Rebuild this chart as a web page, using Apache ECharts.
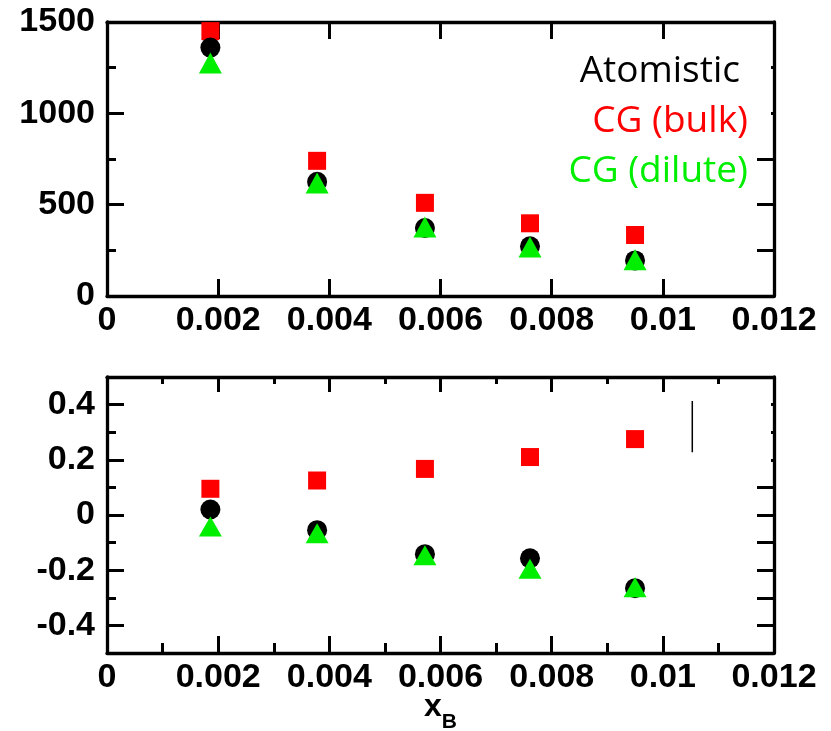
<!DOCTYPE html>
<html>
<head>
<meta charset="utf-8">
<script src="https://cdn.jsdelivr.net/npm/echarts@6/dist/echarts.min.js"></script>
<style>
html,body{margin:0;padding:0;background:#fff;}
#chart{width:831px;height:731px;}
</style>
</head>
<body>
<div id="chart"></div>
<script>
// ---- data ----
const xB = [0.00186, 0.00378, 0.00572, 0.00761, 0.0095];
const topAtomistic = [1360, 625, 372, 272, 195];
const topBulk      = [1450, 740, 510, 398, 334];
const topDilute    = [1275, 618, 378, 268, 198];
const botAtomistic = [0.020, -0.055, -0.142, -0.157, -0.265];
const botBulk      = [0.095, 0.125, 0.167, 0.210, 0.275];
const botDilute    = [-0.042, -0.066, -0.146, -0.195, -0.262];
const markLineX = [0.01053, 0.01053];
const markLineY = [0.413, 0.227];
const legendNames = ['Atomistic', 'CG (bulk)', 'CG (dilute)'];
const botYLabels = [-0.4, -0.2, 0, 0.2, 0.4];
const topYRange = [0, 1500];
const botYRange = [-0.5, 0.5];
const xRange = [0, 0.012];

const zip = (xs, ys) => xs.map((x, i) => [x, ys[i]]);

const RED = '#ff0000', GREEN = '#00ee00', BLACK = '#000000';
const labelStyle = {color: '#000', fontFamily: 'Liberation Sans', fontWeight: 'bold', fontSize: 34, margin: 12,
                    formatter: v => String(v)};
const xLabelStyle = Object.assign({}, labelStyle, {margin: 8});
const lineStyle = {show: true, onZero: false, lineStyle: {color: '#000', width: 3.3}};

const chart = echarts.init(document.getElementById('chart'), null, {renderer: 'canvas'});

function xAxisDef(grid, pos, withLabels, minor, majorLen, minorLen, name) {
  const a = {
    type: 'value', gridIndex: grid, position: pos, min: xRange[0], max: xRange[1], interval: 0.002,
    axisLine: lineStyle,
    axisTick: {show: true, inside: true, length: majorLen, lineStyle: {color: '#000', width: 3}},
    minorTick: {show: minor, splitNumber: 2, length: minorLen, lineStyle: {color: '#000', width: 3}},
    axisLabel: withLabels ? xLabelStyle : {show: false},
    splitLine: {show: false}
  };
  if (name) {
    a.name = name;
    a.nameLocation = 'middle';
    a.nameGap = 38;
    a.nameMoveOverlap = false;
    a.nameTextStyle = {
      rich: {
        x: {fontFamily: 'Liberation Sans', fontWeight: 'bold', fontSize: 32, color: '#000', verticalAlign: 'top', lineHeight: 32},
        b: {fontFamily: 'Liberation Sans', fontWeight: 'bold', fontSize: 21, color: '#000', verticalAlign: 'bottom', lineHeight: 42}
      }
    };
  }
  return a;
}

const option = {
  animation: false,
  backgroundColor: '#fff',
  grid: [
    {left: 107, width: 667, top: 22, height: 274, outerBoundsMode: 'none', containLabel: false},
    {left: 107, width: 667, top: 377, height: 276, outerBoundsMode: 'none', containLabel: false}
  ],
  xAxis: [
    xAxisDef(0, 'bottom', true, false, 17, 9),
    xAxisDef(0, 'top', false, false, 17, 9),
    xAxisDef(1, 'bottom', true, true, 17, 10, '{x|x}{b|B}'),
    xAxisDef(1, 'top', false, true, 15, 7)
  ],
  yAxis: [
    // top plot left
    {type: 'value', gridIndex: 0, position: 'left', min: topYRange[0], max: topYRange[1], interval: 500,
     axisLine: lineStyle,
     axisTick: {show: true, inside: true, length: 17, lineStyle: {color: '#000', width: 3}},
     minorTick: {show: true, splitNumber: 2, length: 9, lineStyle: {color: '#000', width: 3}},
     axisLabel: labelStyle, splitLine: {show: false}},
    // top plot right
    {type: 'value', gridIndex: 0, position: 'right', min: topYRange[0], max: topYRange[1], interval: 250,
     axisLine: lineStyle,
     axisTick: {show: true, inside: true, length: 17, lineStyle: {color: '#000', width: 3}},
     axisLabel: {show: false}, splitLine: {show: false}},
    // bottom plot left (labels + major ticks)
    {type: 'value', gridIndex: 1, position: 'left', min: botYRange[0], max: botYRange[1],
     axisLine: lineStyle,
     axisTick: {show: true, inside: true, length: 17, customValues: botYLabels, lineStyle: {color: '#000', width: 3}},
     axisLabel: Object.assign({}, labelStyle, {customValues: botYLabels}), splitLine: {show: false}},
    // bottom plot left minor ticks
    {type: 'value', gridIndex: 1, position: 'left', min: botYRange[0], max: botYRange[1], interval: 0.1,
     axisLine: {show: false},
     axisTick: {show: true, inside: true, length: 9, lineStyle: {color: '#000', width: 3}},
     axisLabel: {show: false}, splitLine: {show: false}},
    // bottom plot right
    {type: 'value', gridIndex: 1, position: 'right', min: botYRange[0], max: botYRange[1], interval: 0.1,
     axisLine: lineStyle,
     axisTick: {show: true, inside: true, length: 17, lineStyle: {color: '#000', width: 3}},
     axisLabel: {show: false}, splitLine: {show: false}}
  ],
  graphic: [
    {type: 'rect', z: 10, shape: {x: 575, y: 42, width: 196, height: 98}, style: {fill: '#fff'}},
    {type: 'rect', z: 10, shape: {x: 680, y: 396, width: 91, height: 78}, style: {fill: '#fff'}},
    {type: 'text', z: 11, x: 740, y: 71, style: {text: legendNames[0], fill: BLACK, font: '37px "Open Sans"', textAlign: 'right', textVerticalAlign: 'middle'}},
    {type: 'text', z: 11, x: 748, y: 121, style: {text: legendNames[1], fill: RED, font: '37px "Open Sans"', textAlign: 'right', textVerticalAlign: 'middle'}},
    {type: 'text', z: 11, x: 748, y: 171, style: {text: legendNames[2], fill: GREEN, font: '37px "Open Sans"', textAlign: 'right', textVerticalAlign: 'middle'}}
  ],
  series: [
    {name: legendNames[1], type: 'scatter', xAxisIndex: 0, yAxisIndex: 0, symbol: 'rect', symbolSize: 18, itemStyle: {color: RED, opacity: 1}, data: zip(xB, topBulk), z: 2},
    {name: legendNames[0], type: 'scatter', xAxisIndex: 0, yAxisIndex: 0, symbol: 'circle', symbolSize: 20, itemStyle: {color: BLACK, opacity: 1}, data: zip(xB, topAtomistic), z: 3},
    {name: legendNames[2], type: 'scatter', xAxisIndex: 0, yAxisIndex: 0, symbol: 'triangle', symbolSize: [23, 21], itemStyle: {color: GREEN, opacity: 1}, data: zip(xB, topDilute), z: 4},
    {name: legendNames[1], type: 'scatter', xAxisIndex: 2, yAxisIndex: 2, symbol: 'rect', symbolSize: 18, itemStyle: {color: RED, opacity: 1}, data: zip(xB, botBulk), z: 2},
    {name: legendNames[0], type: 'scatter', xAxisIndex: 2, yAxisIndex: 2, symbol: 'circle', symbolSize: 20, itemStyle: {color: BLACK, opacity: 1}, data: zip(xB, botAtomistic), z: 3},
    {name: legendNames[2], type: 'scatter', xAxisIndex: 2, yAxisIndex: 2, symbol: 'triangle', symbolSize: [23, 20], itemStyle: {color: GREEN, opacity: 1}, data: zip(xB, botDilute), z: 4},
    {type: 'line', xAxisIndex: 2, yAxisIndex: 2, symbol: 'none', lineStyle: {color: '#000', width: 1.5}, data: zip(markLineX, markLineY), z: 20}
  ]
};
chart.setOption(option);
</script>
</body>
</html>
